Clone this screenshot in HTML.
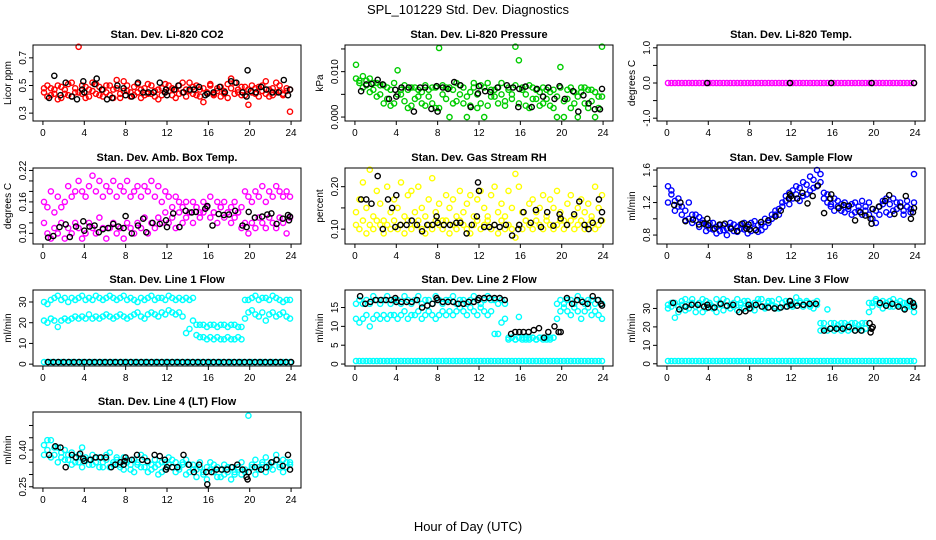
<!DOCTYPE html>
<html><head><meta charset="utf-8"><style>
html,body{margin:0;padding:0;background:#fff;}
svg{display:block;font-family:"Liberation Sans",Arial,sans-serif;}
</style></head><body>
<svg id="chart" width="936" height="540" viewBox="0 0 936 540" xmlns="http://www.w3.org/2000/svg">
<rect x="0" y="0" width="936" height="540" fill="#fff"/>
<text x="468" y="14" text-anchor="middle" font-size="13">SPL_101229  Std. Dev. Diagnostics</text>
<text x="468" y="531" text-anchor="middle" font-size="13">Hour of Day (UTC)</text>
<g id="panels"></g>
</svg>
<script>
// ---------- data ----------
const xTicks = [0,4,8,12,16,20,24];

const co2Red1 = [0.45,0.42,0.48,0.44,0.50,0.41,0.47,0.43,0.52,0.45,0.78,0.44,0.49,0.42,0.46,0.51,0.43,0.47,0.45,0.50,0.41,0.48,0.44,0.53,0.46,0.42,0.49,0.45,0.47,0.43,0.51,0.44,0.46,0.40,0.48,0.45,0.50,0.43,0.47,0.44,0.52,0.42,0.46,0.49,0.43,0.47,0.38,0.45,0.50,0.44,0.48,0.42,0.46,0.51,0.55,0.44,0.47,0.43,0.49,0.36,0.45,0.48,0.42,0.50,0.44,0.47,0.43,0.52,0.46,0.44,0.48,0.31];
const co2Red2 = [0.48,0.50,0.43,0.47,0.40,0.49,0.44,0.51,0.42,0.48,0.45,0.50,0.41,0.47,0.52,0.44,0.49,0.42,0.50,0.43,0.47,0.54,0.41,0.46,0.50,0.45,0.43,0.51,0.41,0.48,0.44,0.50,0.42,0.47,0.43,0.51,0.46,0.48,0.41,0.50,0.45,0.47,0.52,0.44,0.50,0.42,0.48,0.45,0.51,0.43,0.46,0.49,0.44,0.41,0.48,0.52,0.45,0.49,0.43,0.47,0.50,0.44,0.49,0.46,0.53,0.42,0.48,0.45,0.50,0.43,0.46,0.47];
const co2BlackT = [0.6,1.1,1.7,2.2,2.8,3.3,3.8,3.9,4.0,5.2,5.0,5.7,6.2,6.7,7.2,7.8,8.0,8.6,9.2,9.7,10.2,10.7,11.3,11.8,11.9,12.0,12.7,13.1,13.6,14.2,14.6,15.1,15.7,15.9,16.5,17.1,17.6,18.2,18.7,19.3,19.7,19.8,20.1,20.6,21.1,21.6,22.2,22.8,23.3,23.7,23.9];
const co2BlackV = [0.41,0.57,0.43,0.52,0.42,0.40,0.47,0.53,0.45,0.55,0.51,0.47,0.40,0.41,0.50,0.48,0.43,0.42,0.52,0.45,0.45,0.45,0.52,0.45,0.47,0.43,0.47,0.50,0.45,0.47,0.47,0.49,0.43,0.44,0.45,0.49,0.45,0.53,0.52,0.45,0.42,0.61,0.46,0.45,0.49,0.47,0.45,0.45,0.54,0.43,0.47];

const presGreen1 = [0.0115,0.008,0.009,0.007,0.0085,0.006,0.0075,0.005,0.007,0.004,0.006,0.003,0.0103,0.005,0.007,0.002,0.0065,0.004,0.006,0.003,0.007,0.0045,0.0065,0.002,0.0152,0.005,0.0065,0.0,0.006,0.0035,0.007,0.003,0.0,0.0055,0.0065,0.002,0.007,0.0,0.0075,0.0045,0.006,0.003,0.0075,0.0035,0.0065,0.005,0.0155,0.0125,0.006,0.0025,0.007,0.004,0.006,0.0025,0.0065,0.004,0.0055,0.002,0.0,0.011,0.0,0.004,0.0065,0.003,0.0,0.0055,0.0065,0.002,0.006,0.0,0.0045,0.0155];
const presGreen2 = [0.0085,0.0075,0.0065,0.008,0.0055,0.0075,0.0045,0.007,0.003,0.0065,0.0025,0.0075,0.005,0.006,0.0035,0.006,0.0025,0.0065,0.0045,0.0055,0.0025,0.006,0.003,0.0065,0.002,0.007,0.004,0.0065,0.003,0.0075,0.005,0.0065,0.0045,0.0025,0.0075,0.005,0.003,0.0065,0.0025,0.006,0.0045,0.0065,0.005,0.0025,0.006,0.004,0.007,0.003,0.0065,0.005,0.002,0.0065,0.004,0.0055,0.003,0.006,0.0025,0.006,0.0045,0.0065,0.0035,0.006,0.002,0.0055,0.0045,0.0065,0.003,0.006,0.0035,0.0055,0.002,0.0045];
const presBlackT = [0.6,1.1,1.6,2.2,2.7,3.3,3.9,4.0,4.5,5.2,5.7,6.3,6.8,7.4,7.9,8.0,8.5,9.0,9.6,10.2,11.2,11.9,12.0,12.6,13.1,13.8,14.7,15.3,15.8,15.9,16.5,17.1,17.6,18.2,18.7,19.3,19.8,20.3,21.1,21.6,22.1,22.6,23.2,23.7,23.9];
const presBlackV = [0.0057,0.0072,0.0073,0.0082,0.0072,0.004,0.006,0.0045,0.0065,0.0065,0.0012,0.0065,0.0065,0.0018,0.0068,0.0012,0.0065,0.0062,0.0077,0.007,0.0022,0.0052,0.0068,0.0057,0.0055,0.0065,0.007,0.0065,0.0022,0.0062,0.0067,0.0022,0.0062,0.0045,0.0065,0.004,0.0068,0.004,0.0057,0.0012,0.0048,0.003,0.0017,0.0017,0.0062];

const tempMagenta = [0,0,0,0,0,0,0,0,0,0,0,0,0,0,0,0,0,0,0,0,0,0,0,0,0,0,0,0,0,0,0,0,0,0,0,0,0,0,0,0,0,0,0,0,0,0,0,0,0,0,0,0,0,0,0,0,0,0,0,0,0,0,0,0,0,0,0,0,0,0,0,0];
const tempBlackT = [3.9,11.9,15.9,19.8,23.9];
const tempBlackV = [0,0,0,0,0];

const ambUpper = [0.16,0.15,0.18,0.14,0.17,0.15,0.16,0.19,0.17,0.18,0.20,0.18,0.17,0.19,0.21,0.18,0.20,0.17,0.19,0.18,0.20,0.17,0.19,0.18,0.20,0.17,0.18,0.19,0.17,0.19,0.18,0.20,0.17,0.19,0.16,0.18,0.17,0.15,0.17,0.16,0.15,0.16,0.14,0.16,0.15,0.14,0.16,0.15,0.17,0.14,0.16,0.15,0.16,0.14,0.15,0.16,0.14,0.15,0.18,0.17,0.16,0.18,0.17,0.19,0.16,0.18,0.17,0.19,0.18,0.17,0.18,0.17];
const ambLower = [0.12,0.10,0.09,0.11,0.10,0.12,0.09,0.11,0.10,0.12,0.11,0.09,0.10,0.12,0.11,0.10,0.13,0.11,0.09,0.11,0.12,0.10,0.11,0.09,0.12,0.11,0.10,0.12,0.11,0.13,0.10,0.12,0.11,0.13,0.12,0.14,0.12,0.13,0.11,0.14,0.12,0.13,0.14,0.12,0.15,0.13,0.14,0.15,0.13,0.14,0.12,0.15,0.13,0.14,0.12,0.13,0.14,0.11,0.12,0.10,0.12,0.11,0.13,0.12,0.11,0.13,0.12,0.11,0.13,0.12,0.10,0.13];
const ambBlackT = [0.5,1.0,1.6,2.2,2.6,3.2,3.9,4.0,4.5,5.0,5.4,5.8,6.3,6.8,7.3,7.8,8.0,8.6,9.2,9.7,10.0,10.6,11.3,11.9,12.0,12.6,13.2,13.8,14.4,14.8,15.7,15.9,16.4,17.0,17.5,18.0,18.6,19.3,19.7,19.9,20.5,21.2,21.7,22.1,22.6,23.2,23.7,23.8,23.9];
const ambBlackV = [0.092,0.095,0.112,0.117,0.093,0.113,0.123,0.105,0.113,0.115,0.102,0.108,0.110,0.118,0.113,0.110,0.133,0.100,0.115,0.128,0.102,0.120,0.118,0.125,0.112,0.138,0.112,0.143,0.140,0.141,0.147,0.152,0.115,0.137,0.135,0.136,0.143,0.115,0.112,0.141,0.130,0.132,0.136,0.138,0.118,0.128,0.135,0.125,0.132];

const rhYellow1 = [0.11,0.10,0.12,0.09,0.11,0.10,0.12,0.11,0.09,0.11,0.10,0.12,0.10,0.11,0.09,0.12,0.10,0.11,0.12,0.10,0.09,0.11,0.10,0.12,0.11,0.10,0.12,0.09,0.11,0.10,0.12,0.11,0.10,0.09,0.11,0.12,0.10,0.11,0.12,0.10,0.11,0.09,0.12,0.10,0.11,0.10,0.08,0.11,0.10,0.12,0.11,0.10,0.12,0.11,0.10,0.12,0.11,0.10,0.11,0.12,0.10,0.11,0.12,0.10,0.11,0.12,0.10,0.11,0.12,0.10,0.11,0.12];
const rhYellow2 = [0.14,0.17,0.21,0.15,0.24,0.13,0.19,0.16,0.12,0.20,0.14,0.17,0.15,0.21,0.13,0.18,0.19,0.14,0.20,0.15,0.13,0.17,0.22,0.14,0.16,0.12,0.18,0.15,0.17,0.13,0.19,0.14,0.16,0.18,0.13,0.17,0.19,0.15,0.13,0.18,0.20,0.14,0.16,0.13,0.19,0.15,0.23,0.20,0.14,0.12,0.16,0.17,0.14,0.15,0.18,0.13,0.17,0.15,0.19,0.14,0.12,0.16,0.18,0.13,0.15,0.17,0.14,0.16,0.13,0.20,0.15,0.18];
const rhBlackT = [0.6,1.1,1.6,2.2,2.7,3.2,3.6,3.9,4.0,4.4,5.0,5.5,6.0,6.5,7.0,7.5,7.9,8.0,8.6,9.2,9.8,10.2,10.8,11.3,11.8,11.9,12.0,12.5,13.0,13.5,14.0,14.6,15.2,15.8,15.9,16.3,17.0,17.5,18.0,18.6,19.2,19.8,19.9,20.5,21.2,21.7,22.2,22.6,23.0,23.6,23.8,23.9];
const rhBlackV = [0.17,0.17,0.16,0.225,0.10,0.17,0.15,0.105,0.18,0.11,0.11,0.12,0.11,0.095,0.11,0.11,0.13,0.115,0.11,0.11,0.115,0.115,0.09,0.11,0.13,0.21,0.19,0.105,0.105,0.11,0.105,0.11,0.085,0.10,0.11,0.14,0.115,0.145,0.105,0.14,0.108,0.135,0.125,0.11,0.135,0.165,0.11,0.10,0.115,0.17,0.12,0.14];

const flowBlue1 = [1.40,1.30,1.22,1.25,1.15,1.10,1.20,1.05,0.98,1.02,0.95,0.92,0.88,0.95,0.90,0.85,0.92,0.88,0.95,0.85,0.90,0.93,0.87,0.82,0.95,0.88,0.92,0.86,0.90,0.95,1.00,1.05,1.12,1.20,1.28,1.32,1.25,1.30,1.38,1.28,1.42,1.35,1.48,1.40,1.55,1.32,1.20,1.18,1.25,1.15,1.10,1.20,1.12,1.18,1.08,1.15,1.22,1.10,1.05,1.12,0.95,1.15,1.22,1.08,1.18,1.25,1.12,1.20,1.10,1.15,1.08,1.20];
const flowBlue2 = [1.20,1.35,1.10,1.15,1.05,0.98,1.00,0.95,1.05,0.90,0.98,0.85,0.95,0.87,0.82,0.92,0.86,0.80,0.90,0.93,0.84,0.88,0.95,0.90,0.85,0.97,0.84,0.93,1.00,0.98,1.05,1.10,1.05,1.15,1.22,1.18,1.35,1.40,1.22,1.45,1.30,1.52,1.38,1.60,1.45,1.25,1.30,1.15,1.10,1.22,1.18,1.08,1.15,1.05,1.20,1.10,1.05,1.15,1.20,1.00,1.10,1.05,1.18,1.25,1.05,1.10,1.20,1.15,1.05,1.22,1.12,1.55];
const flowBlackT = [0.7,1.3,1.8,2.5,3.1,3.6,3.9,4.0,4.6,5.1,5.6,6.2,6.8,7.3,7.7,7.9,8.0,8.6,9.1,9.8,10.5,11.0,11.8,11.9,12.0,12.6,13.1,13.6,14.1,14.6,15.2,15.8,15.9,16.6,17.1,17.6,18.2,18.7,19.2,19.7,19.8,19.9,20.5,21.1,21.5,22.0,22.6,23.1,23.6,23.8,23.9];
const flowBlackV = [1.17,1.20,0.97,0.99,0.93,0.94,1.00,0.92,0.88,0.93,0.94,0.88,0.85,0.94,0.88,0.93,0.87,0.86,0.96,0.98,1.03,1.10,1.25,1.30,1.28,1.25,1.32,1.19,1.28,1.41,1.07,1.25,1.30,1.13,1.17,1.16,0.98,1.08,1.04,1.00,0.94,1.12,1.15,1.22,1.29,1.06,1.15,1.28,1.00,1.08,1.13];

const line1Upper = [30,29,31,32,33,31,32,30,32,31,32,33,31,32,31,33,32,31,32,33,32,31,32,33,31,32,31,30,32,31,32,33,31,32,32,31,33,32,31,32,31,32,31,32,19,19,19,18,19,19,18,19,19,18,19,19,18,18,31,31,32,33,31,32,32,31,33,32,31,30,31,31];
const line1Lower = [21,20,22,21,18,21,22,21,22,23,22,23,22,24,22,23,22,23,24,23,22,23,24,23,22,23,24,25,23,22,24,25,24,23,25,24,26,25,24,25,23,15,17,21,14,13,13,12,13,12,13,12,12,13,12,12,13,12,22,25,26,24,23,25,21,24,25,23,24,25,23,22];
const line1Zero = [1,1,1,1,1,1,1,1,1,1,1,1,1,1,1,1,1,1,1,1,1,1,1,1,1,1,1,1,1,1,1,1,1,1,1,1,1,1,1,1,1,1,1,1,1,1,1,1,1,1,1,1,1,1,1,1,1,1,1,1,1,1,1,1,1,1,1,1,1,1,1,1];
const line1BlackT = [0.5,1.0,1.5,2.0,2.5,3.0,3.5,4.0,4.5,5.0,5.5,6.0,6.5,7.0,7.5,8.0,8.5,9.0,9.5,10.0,10.5,11.0,11.5,12.0,12.5,13.0,13.5,14.0,14.5,15.0,15.5,16.0,16.5,17.0,17.5,18.0,18.5,19.0,19.5,20.0,20.5,21.0,21.5,22.0,22.5,23.0,23.5,24.0];
const line1BlackV = [1,1,1,1,1,1,1,1,1,1,1,1,1,1,1,1,1,1,1,1,1,1,1,1,1,1,1,1,1,1,1,1,1,1,1,1,1,1,1,1,1,1,1,1,1,1,1,1];

const line2Upper = [16,17,16,17,16,18,17,16,17,18,16,17,17,16,18,17,16,17,18,16,17,17,16,18,17,16,17,17,18,16,17,17,16,17,18,17,16,17,18,17,17,16,17,16,7,7,6.5,7,7,6.5,7,7,6.5,7,7,6.5,7,7,16,17,16,17,17,16,18,17,16,17,17,16,17,16];
const line2Lower = [12,11,12,13,10,12,13,12,13,12,13,13,12,13,14,12,13,13,14,12,13,14,13,12,13,14,13,14,13,14,15,14,13,15,14,13,15,14,13,14,8,8,11,12,6.5,7,6.5,12.5,6.5,7,6.5,7,6.5,7,6.5,7,6.5,7,12,14,15,14,13,15,14,12,14,15,13,14,13,12];
const line2Zero = [0.8,0.8,0.8,0.8,0.8,0.8,0.8,0.8,0.8,0.8,0.8,0.8,0.8,0.8,0.8,0.8,0.8,0.8,0.8,0.8,0.8,0.8,0.8,0.8,0.8,0.8,0.8,0.8,0.8,0.8,0.8,0.8,0.8,0.8,0.8,0.8,0.8,0.8,0.8,0.8,0.8,0.8,0.8,0.8,0.8,0.8,0.8,0.8,0.8,0.8,0.8,0.8,0.8,0.8,0.8,0.8,0.8,0.8,0.8,0.8,0.8,0.8,0.8,0.8,0.8,0.8,0.8,0.8,0.8,0.8,0.8,0.8];
const line2BlackT = [0.5,1.0,1.5,2.0,2.5,3.0,3.5,3.9,4.0,4.5,5.0,5.5,6.0,6.5,7.0,7.5,7.9,8.0,8.5,9.0,9.5,10.0,10.5,11.0,11.5,11.9,12.0,12.5,13.0,13.5,14.0,14.5,15.1,15.5,15.9,16.3,16.8,17.3,17.8,18.3,18.7,19.3,19.7,19.9,20.5,21.0,21.5,22.0,22.5,23.0,23.5,23.8,23.9];
const line2BlackV = [18,16,16.5,17,17,17,17,17.5,16.5,16.5,16.5,16.5,17,15,15.5,16,17.5,17,16.5,16.5,16.5,16,16,16.5,16.5,17,17.5,17.5,17.5,17.5,17.5,17,8,8.5,8.5,8.5,8.5,9,9.5,7,8.5,10,8.5,8.5,17.5,16,17,16.5,16,18,17,16,15.5];

const line3A = [32,33,25,31,34,29,32,35,31,33,28,34,32,30,35,33,29,34,32,31,35,33,30,34,32,29,33,35,31,34,32,30,35,33,31,34,32,36,33,31,34,32,33,34,22,22,29.5,22,22,21,22,22,21,22,22,21,22,22,28,33,35,32,34,33,31,35,32,34,33,31,34,28];
const line3B = [30,31,33,28,32,35,30,33,28,32,35,30,33,31,28,32,35,31,30,33,29,32,34,31,30,33,35,31,30,33,34,31,30,33,34,32,31,33,34,32,33,31,30,32,18,19,18,19,18,19,18,19,18,19,18,19,18,19,33,31,34,32,30,33,34,31,33,32,30,33,31,32];
const line3Zero = [1.5,1.5,1.5,1.5,1.5,1.5,1.5,1.5,1.5,1.5,1.5,1.5,1.5,1.5,1.5,1.5,1.5,1.5,1.5,1.5,1.5,1.5,1.5,1.5,1.5,1.5,1.5,1.5,1.5,1.5,1.5,1.5,1.5,1.5,1.5,1.5,1.5,1.5,1.5,1.5,1.5,1.5,1.5,1.5,1.5,1.5,1.5,1.5,1.5,1.5,1.5,1.5,1.5,1.5,1.5,1.5,1.5,1.5,1.5,1.5,1.5,1.5,1.5,1.5,1.5,1.5,1.5,1.5,1.5,1.5,1.5,1.5];
const line3BlackT = [0.6,1.2,1.8,2.4,3.0,3.6,3.9,4.0,4.6,5.2,5.8,6.4,7.0,7.6,7.9,8.0,8.6,9.2,9.8,10.4,11.0,11.6,11.9,12.0,12.6,13.2,13.8,14.4,15.2,15.8,16.4,17.0,17.6,18.2,18.8,19.6,19.7,19.8,19.9,20.6,21.2,21.8,22.4,23.0,23.5,23.8,23.9];
const line3BlackV = [33,29.5,31,32,32,31,32,30.5,30.5,32.5,31.5,32,28,28.5,32,30,32,31,30.5,30,30.5,31,34,32,31.5,32,32.5,32.5,18,19,19,19,20,18,18,22,17,19,20,33,31.5,32.5,31,29.5,34,33,31];

const line4A = [0.42,0.40,0.44,0.38,0.41,0.37,0.40,0.36,0.39,0.35,0.38,0.41,0.36,0.34,0.38,0.35,0.37,0.33,0.36,0.39,0.34,0.36,0.33,0.37,0.35,0.32,0.36,0.34,0.38,0.33,0.35,0.32,0.36,0.34,0.31,0.35,0.37,0.33,0.35,0.32,0.34,0.36,0.31,0.34,0.32,0.35,0.30,0.33,0.35,0.31,0.33,0.29,0.34,0.31,0.33,0.30,0.32,0.35,0.31,0.54,0.33,0.36,0.32,0.34,0.37,0.33,0.35,0.38,0.34,0.36,0.33,0.35];
const line4B = [0.38,0.44,0.37,0.41,0.35,0.39,0.36,0.38,0.34,0.37,0.35,0.33,0.37,0.36,0.34,0.37,0.33,0.35,0.38,0.33,0.35,0.37,0.34,0.32,0.36,0.34,0.31,0.35,0.33,0.37,0.31,0.34,0.33,0.30,0.35,0.32,0.34,0.36,0.31,0.33,0.35,0.30,0.34,0.32,0.29,0.33,0.31,0.28,0.32,0.34,0.29,0.32,0.30,0.33,0.28,0.31,0.33,0.30,0.32,0.31,0.34,0.30,0.33,0.35,0.31,0.34,0.32,0.36,0.33,0.31,0.35,0.34];
const line4BlackT = [0.6,1.2,1.7,2.2,2.8,3.2,3.6,3.9,4.0,4.6,5.1,5.6,6.1,6.6,7.0,7.5,7.8,7.9,8.0,8.6,9.1,9.6,10.1,10.8,11.3,11.8,11.9,12.0,12.5,13.0,13.6,14.1,14.6,15.1,15.8,15.9,16.3,16.8,17.3,17.8,18.3,18.8,19.3,19.7,19.8,19.9,20.5,21.1,21.6,22.1,22.6,23.2,23.7,23.9];
const line4BlackV = [0.38,0.415,0.41,0.33,0.38,0.37,0.385,0.365,0.355,0.36,0.37,0.37,0.37,0.33,0.34,0.35,0.34,0.355,0.37,0.36,0.38,0.36,0.355,0.38,0.375,0.36,0.32,0.33,0.33,0.33,0.38,0.34,0.31,0.34,0.31,0.26,0.31,0.32,0.32,0.32,0.33,0.34,0.32,0.29,0.28,0.31,0.33,0.32,0.33,0.35,0.36,0.335,0.38,0.32];

// ---------- layout ----------
const NS = "http://www.w3.org/2000/svg";
const colLeft = [33, 345, 657];
const rowTop = [45, 168, 290, 412];
const boxW = 268, boxH = 76;
const xMin = -0.96, xMax = 24.96;

const panels = [
  {key:"co2", title:"Stan. Dev. Li-820 CO2", ylab:"Licor ppm", col:0,row:0, ylim:[0.243,0.793], ticks:[0.3,0.4,0.5,0.6,0.7], labels:["0.3","0.5","0.7"],
   series:[[co2Red1,"#ff0000"],[co2Red2,"#ff0000"]], black:[co2BlackT,co2BlackV]},
  {key:"pressure", title:"Stan. Dev. Li-820 Pressure", ylab:"kPa", col:1,row:0, ylim:[-0.00087,0.01587], ticks:[0,0.005,0.010,0.015], labels:["0.000","0.010"],
   series:[[presGreen1,"#00cd00"],[presGreen2,"#00cd00"]], black:[presBlackT,presBlackV]},
  {key:"temp", title:"Stan. Dev. Li-820 Temp.", ylab:"degrees C", col:2,row:0, ylim:[-1.08,1.08], ticks:[-1,-0.5,0,0.5,1], labels:["-1.0","0.0","1.0"],
   series:[[tempMagenta,"#ff00ff"]], black:[tempBlackT,tempBlackV]},
  {key:"ambtemp", title:"Stan. Dev. Amb. Box Temp.", ylab:"degrees C", col:0,row:1, ylim:[0.0797,0.2247], ticks:[0.10,0.12,0.14,0.16,0.18,0.20,0.22], labels:["0.10","0.16","0.22"],
   series:[[ambUpper,"#ff00ff"],[ambLower,"#ff00ff"]], black:[ambBlackT,ambBlackV]},
  {key:"rh", title:"Stan. Dev. Gas Stream RH", ylab:"percent", col:1,row:1, ylim:[0.065,0.244], ticks:[0.10,0.15,0.20], labels:["0.10","0.20"],
   series:[[rhYellow1,"#ffff00"],[rhYellow2,"#ffff00"]], black:[rhBlackT,rhBlackV]},
  {key:"sampleflow", title:"Stan. Dev. Sample Flow", ylab:"ml/min", col:2,row:1, ylim:[0.69,1.625], ticks:[0.8,1.0,1.2,1.4,1.6], labels:["0.8","1.2","1.6"],
   series:[[flowBlue1,"#0000ff"],[flowBlue2,"#0000ff"]], black:[flowBlackT,flowBlackV]},
  {key:"line1", title:"Stan. Dev. Line 1 Flow", ylab:"ml/min", col:0,row:2, ylim:[-0.9,35.8], ticks:[0,10,20,30], labels:["0","10","20","30"],
   series:[[line1Upper,"#00ffff"],[line1Lower,"#00ffff"],[line1Zero,"#00ffff"]], black:[line1BlackT,line1BlackV]},
  {key:"line2", title:"Stan. Dev. Line 2 Flow", ylab:"ml/min", col:1,row:2, ylim:[-0.52,19.65], ticks:[0,5,10,15], labels:["0","5","10","15"],
   series:[[line2Upper,"#00ffff"],[line2Lower,"#00ffff"],[line2Zero,"#00ffff"]], black:[line2BlackT,line2BlackV]},
  {key:"line3", title:"Stan. Dev. Line 3 Flow", ylab:"ml/min", col:2,row:2, ylim:[-1.2,40], ticks:[0,10,20,30], labels:["0","10","20","30"],
   series:[[line3A,"#00ffff"],[line3B,"#00ffff"],[line3Zero,"#00ffff"]], black:[line3BlackT,line3BlackV]},
  {key:"line4", title:"Stan. Dev. Line 4 (LT) Flow", ylab:"ml/min", col:0,row:3, ylim:[0.245,0.555], ticks:[0.25,0.30,0.35,0.40,0.45,0.50], labels:["0.25","0.40"],
   series:[[line4A,"#00ffff"],[line4B,"#00ffff"]], black:[line4BlackT,line4BlackV]}
];

function mk(tag, attrs, parent){
  const e = document.createElementNS(NS, tag);
  for (const k in attrs) e.setAttribute(k, attrs[k]);
  parent.appendChild(e);
  return e;
}
function fmt(v){ return String(v); }

const root = document.getElementById("panels");
panels.forEach(p => {
  const L = colLeft[p.col], T = rowTop[p.row], R = L + boxW, B = T + boxH;
  const xs = v => L + (v - xMin) / (xMax - xMin) * boxW;
  const ys = v => B - (v - p.ylim[0]) / (p.ylim[1] - p.ylim[0]) * boxH;
  const g = mk("g", {}, root);
  
  

  const t = mk("text", {x:(L+R)/2, y:T-7, "text-anchor":"middle", "font-size":"11", "font-weight":"bold"}, g);
  t.textContent = p.title;
  
  

  const yl = mk("text", {x:0, y:0, "text-anchor":"middle", "font-size":"10", transform:`translate(${L-22},${(T+B)/2}) rotate(-90)`}, g);
  yl.textContent = p.ylab;
  
  

  // marks
  const marks = mk("g", {fill:"none", "stroke-width":"1.4"}, g);
  
  
  p.series.forEach(([vals, color]) => {
    const n = vals.length;
    vals.forEach((v, i) => {
      const tt = 0.1 + i * 23.8 / (n - 1);
      const c = mk("circle", {cx:xs(tt).toFixed(1), cy:ys(v).toFixed(1), r:"2.6", stroke:color}, marks);
      
      
    });
  });
  const [bt, bv] = p.black;
  for (let i = 0; i < Math.min(bt.length, bv.length); i++) {
    const c = mk("circle", {cx:xs(bt[i]).toFixed(1), cy:ys(bv[i]).toFixed(1), r:"2.6", stroke:"#000"}, marks);
    
    
  }

  // box
  const box = mk("rect", {x:L, y:T, width:boxW, height:boxH, fill:"none", stroke:"#000", "stroke-width":"1"}, g);
  
  

  // x axis
  const xa = mk("g", {}, g);
  
  
  xTicks.forEach(v => {
    const x = xs(v);
    mk("line", {x1:x, x2:x, y1:B, y2:B+4, stroke:"#000"}, xa);
    const lt = mk("text", {x:x, y:B+15, "text-anchor":"middle", "font-size":"10"}, xa);
    lt.textContent = fmt(v);
  });
  // y axis
  const ya = mk("g", {}, g);
  
  
  p.ticks.forEach(v => {
    const y = ys(v);
    mk("line", {x1:L-4, x2:L, y1:y, y2:y, stroke:"#000"}, ya);
  });
  p.labels.forEach(s => {
    const y = ys(parseFloat(s));
    const lt = mk("text", {x:0, y:0, "text-anchor":"middle", "font-size":"10", transform:`translate(${L-7},${y}) rotate(-90)`}, ya);
    lt.textContent = s;
  });
});
</script>
</body></html>
